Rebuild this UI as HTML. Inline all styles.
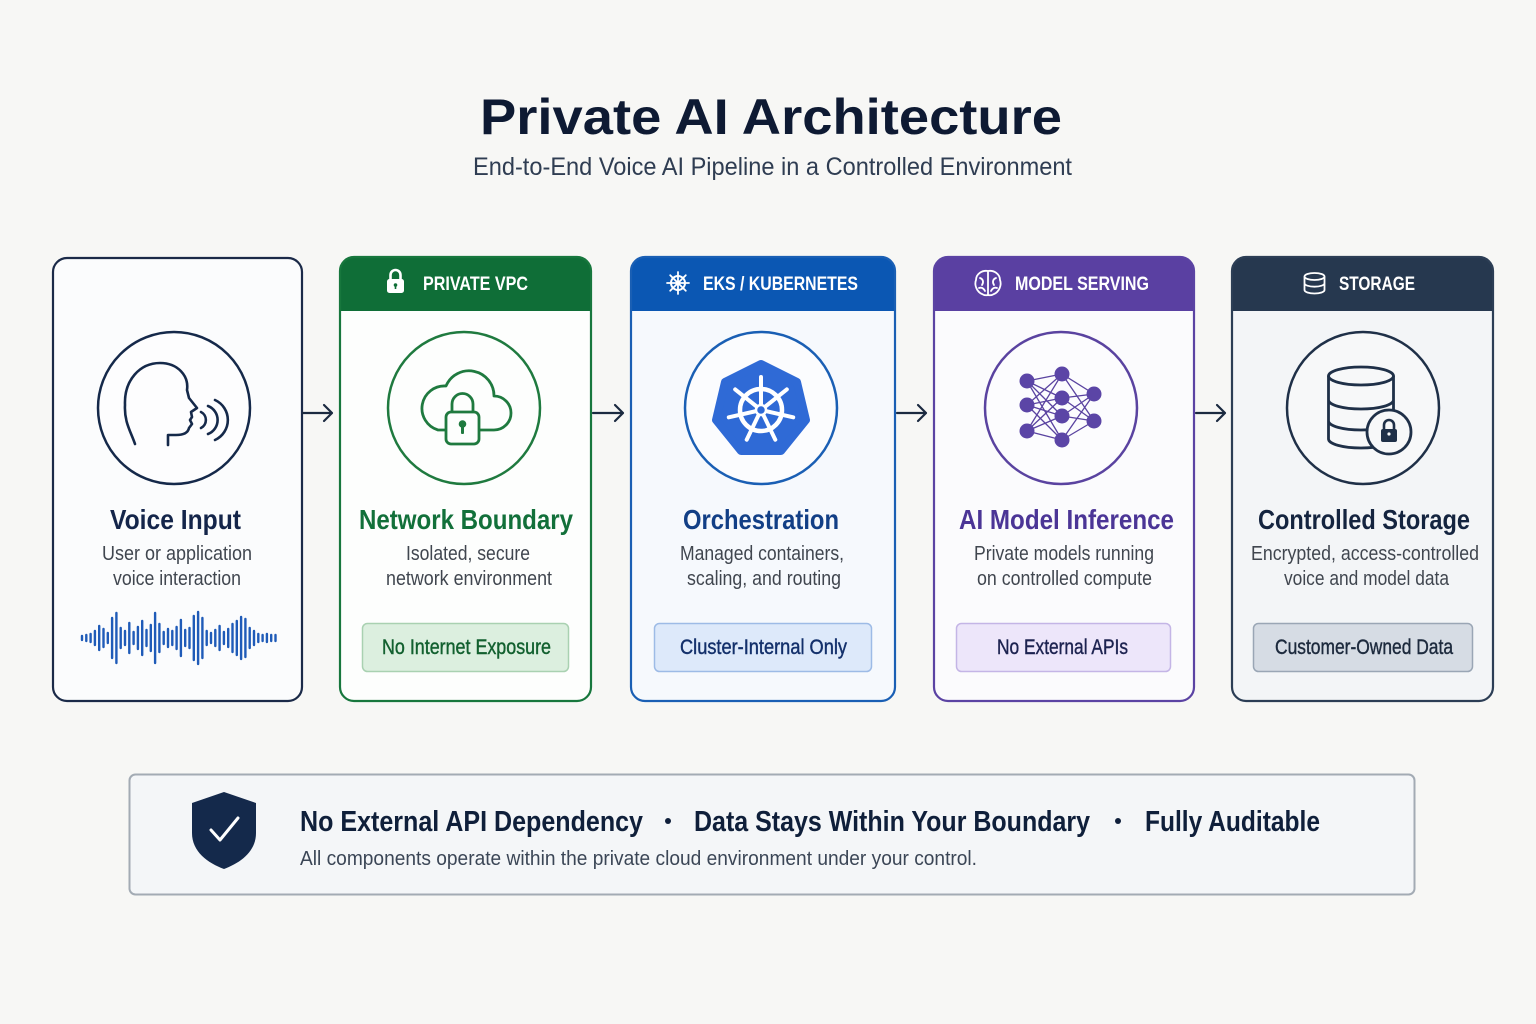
<!DOCTYPE html>
<html><head><meta charset="utf-8"><style>
html,body{margin:0;padding:0;background:#f7f7f5;}
svg{display:block;}
text{font-family:"Liberation Sans",sans-serif;}
</style></head><body>
<svg width="1536" height="1024" viewBox="0 0 1536 1024" xmlns="http://www.w3.org/2000/svg">
<rect width="1536" height="1024" fill="#f7f7f5"/>

<!-- Title -->
<text x="480" y="134" font-size="50" font-weight="700" fill="#0e1a33" textLength="582" lengthAdjust="spacingAndGlyphs">Private AI Architecture</text>
<text x="473" y="175" font-size="25" fill="#2f3d52" textLength="599" lengthAdjust="spacingAndGlyphs">End-to-End Voice AI Pipeline in a Controlled Environment</text>

<!-- Card 1 -->
<rect x="53" y="258" width="249" height="443" rx="14" fill="#fbfcfd" stroke="#1b2a48" stroke-width="2.2"/>
<circle cx="174" cy="408" r="76" fill="#fdfdfe" stroke="#15294a" stroke-width="2.5"/>
<g fill="none" stroke="#15294a" stroke-width="2.6" stroke-linecap="round" stroke-linejoin="round">
<path d="M135,444 C131,432 124,422 125,405 C124,380 140,363 160,363 C178,363 189,376 187,390 L189,398 L197,408 L191,412 L192,417 L190,420 L192,424 L189,428 C188,433 183,435 176,435 L168,435 L168,445"/>
<path d="M201,412 A9,9 0 0 1 201,428"/>
<path d="M208,406 A15,15 0 0 1 208,434"/>
<path d="M215,400 A22,22 0 0 1 215,440"/>
</g>
<text x="110" y="529" font-size="28" font-weight="700" fill="#14254a" textLength="131" lengthAdjust="spacingAndGlyphs">Voice Input</text>
<text x="102" y="560" font-size="20" fill="#40464f" textLength="150" lengthAdjust="spacingAndGlyphs">User or application</text>
<text x="113" y="585" font-size="20" fill="#40464f" textLength="128" lengthAdjust="spacingAndGlyphs">voice interaction</text>
<path stroke="#1f5bb8" stroke-width="2.4" stroke-linecap="round" fill="none" d="M82 636V640 M86.3 635V641 M90.6 634V642 M94.9 631V645 M99.2 626V650 M103.5 629V647 M107.8 633V643 M112.1 618V658 M116.4 613V663 M120.7 628V648 M125 631V645 M129.3 623V653 M133.6 632V644 M137.9 627V649 M142.2 621V655 M146.5 630V646 M150.8 625V651 M155.1 613V663 M159.4 624V652 M163.7 632V644 M168 629V647 M172.3 631V645 M176.6 627V649 M180.9 620V656 M185.2 630V646 M189.5 628V648 M193.8 616V660 M198.1 612V664 M202.4 618V658 M206.7 631V645 M211 633V643 M215.3 630V646 M219.6 626V650 M223.9 632V644 M228.2 629V647 M232.5 624V652 M236.8 621V655 M241.1 617V659 M245.4 619V657 M249.7 628V648 M254 631V645 M258.3 634V642 M262.6 635V641 M266.9 634V642 M271.2 635V641 M275.5 635V641"/>

<!-- Arrows -->
<g fill="none" stroke="#1b2a40" stroke-width="2.2" stroke-linecap="round" stroke-linejoin="round">
<path d="M303,413 H332 M324,405 L332,413 L324,421"/>
<path d="M593,413 H623 M615,405 L623,413 L615,421"/>
<path d="M897,413 H926 M918,405 L926,413 L918,421"/>
<path d="M1196,413 H1225 M1217,405 L1225,413 L1217,421"/>
</g>

<!-- Card 2 -->
<rect x="340" y="257" width="251" height="444" rx="14" fill="#fdfefd"/>
<path d="M340,311 V271 A14,14 0 0 1 354,257 H577 A14,14 0 0 1 591,271 V311 Z" fill="#0f6e37"/>
<rect x="340" y="257" width="251" height="444" rx="14" fill="none" stroke="#17773d" stroke-width="2.2"/>
<rect x="387" y="279" width="17" height="14" rx="2.5" fill="#fff"/>
<path d="M390.5,279 V275 A5,5 0 0 1 400.5,275 V279" fill="none" stroke="#fff" stroke-width="2.6"/>
<circle cx="395.5" cy="285" r="1.8" fill="#0f6e37"/>
<rect x="394.7" y="285" width="1.6" height="4" fill="#0f6e37"/>
<text x="423" y="290" font-size="19" font-weight="700" fill="#fff" textLength="105" lengthAdjust="spacingAndGlyphs">PRIVATE VPC</text>
<circle cx="464" cy="408" r="76" fill="#fdfefd" stroke="#1f7a3f" stroke-width="2.5"/>
<g fill="none" stroke="#1f7a3f" stroke-width="2.8" stroke-linejoin="round">
<path d="M438,430 H494 A17,17 0 0 0 494,396 A25,25 0 0 0 446,386 A22.5,22.5 0 0 0 438,430 Z"/>
<path d="M452,412 V404 A10.5,10.5 0 0 1 473,404 V412"/>
<rect x="446" y="412" width="33" height="32" rx="5" fill="#fdfefd"/>
</g>
<circle cx="462.5" cy="424" r="3.8" fill="#1f7a3f"/>
<rect x="461" y="425" width="3" height="9" rx="1" fill="#1f7a3f"/>
<text x="359" y="529" font-size="28" font-weight="700" fill="#12703a" textLength="214" lengthAdjust="spacingAndGlyphs">Network Boundary</text>
<text x="406" y="560" font-size="20" fill="#40464f" textLength="124" lengthAdjust="spacingAndGlyphs">Isolated, secure</text>
<text x="386" y="585" font-size="20" fill="#40464f" textLength="166" lengthAdjust="spacingAndGlyphs">network environment</text>
<rect x="362.5" y="623.5" width="206" height="48" rx="5" fill="#dcefdf" stroke="#a9d1b1" stroke-width="1.5"/>
<text x="382" y="654" font-size="21" fill="#12602f" stroke="#12602f" stroke-width="0.4" textLength="169" lengthAdjust="spacingAndGlyphs">No Internet Exposure</text>

<!-- Card 3 -->
<rect x="631" y="257" width="264" height="444" rx="14" fill="#f6f9fd"/>
<path d="M631,311 V271 A14,14 0 0 1 645,257 H881 A14,14 0 0 1 895,271 V311 Z" fill="#0b57b3"/>
<rect x="631" y="257" width="264" height="444" rx="14" fill="none" stroke="#1a5fb4" stroke-width="2.2"/>
<g transform="translate(678,283)" stroke="#fff" fill="none" stroke-linecap="round">
<circle r="7" stroke-width="2"/>
<circle r="1.8" fill="#fff" stroke="none"/>
<path stroke-width="1.8" d="M0,-11 V11 M-11,0 H11 M-7.8,-7.8 L7.8,7.8 M-7.8,7.8 L7.8,-7.8"/>
</g>
<text x="703" y="290" font-size="19" font-weight="700" fill="#fff" textLength="155" lengthAdjust="spacingAndGlyphs">EKS / KUBERNETES</text>
<circle cx="761" cy="408" r="76" fill="#fbfcfe" stroke="#1a5fb4" stroke-width="2.5"/>
<polygon points="761,364 797,382 806,420 781,451 741,451 716,420 725,382" fill="#2f6ad6" stroke="#2f6ad6" stroke-width="8" stroke-linejoin="round"/>
<g stroke="#fff" fill="none" stroke-linecap="round">
<circle cx="761" cy="410" r="21" stroke-width="4.5"/>
<path stroke-width="4" d="M761,410 L761,377 M761,410 L786.8,389.4 M761,410 L793.2,417.3 M761,410 L775.3,439.7 M761,410 L746.7,439.7 M761,410 L728.8,417.3 M761,410 L735.2,389.4"/>
</g>
<circle cx="761" cy="410" r="5" fill="#2f6ad6" stroke="#fff" stroke-width="2.5"/>
<text x="683" y="529" font-size="28" font-weight="700" fill="#123f86" textLength="156" lengthAdjust="spacingAndGlyphs">Orchestration</text>
<text x="680" y="560" font-size="20" fill="#40464f" textLength="164" lengthAdjust="spacingAndGlyphs">Managed containers,</text>
<text x="687" y="585" font-size="20" fill="#40464f" textLength="154" lengthAdjust="spacingAndGlyphs">scaling, and routing</text>
<rect x="654.5" y="623.5" width="217" height="48" rx="5" fill="#dde9fa" stroke="#9dbbe6" stroke-width="1.5"/>
<text x="680" y="654" font-size="21" fill="#13306b" stroke="#13306b" stroke-width="0.4" textLength="167" lengthAdjust="spacingAndGlyphs">Cluster-Internal Only</text>

<!-- Card 4 -->
<rect x="934" y="257" width="260" height="444" rx="14" fill="#fbfbfd"/>
<path d="M934,311 V271 A14,14 0 0 1 948,257 H1180 A14,14 0 0 1 1194,271 V311 Z" fill="#5a40a2"/>
<rect x="934" y="257" width="260" height="444" rx="14" fill="none" stroke="#5b43a3" stroke-width="2.2"/>
<g transform="translate(988,283)" stroke="#fff" fill="none" stroke-width="1.8" stroke-linecap="round">
<path d="M0,-12 C-6,-13 -12,-9 -12,-3 C-14,2 -11,9 -6,11 C-3,13 0,12 0,12 C0,12 3,13 6,11 C11,9 14,2 12,-3 C12,-9 6,-13 0,-12 Z M0,-12 V12 M-8,-5 C-5,-4 -4,-1 -6,2 M8,-5 C5,-4 4,-1 6,2 M-9,5 C-6,4 -4,6 -3,8 M9,5 C6,4 4,6 3,8"/>
</g>
<text x="1015" y="290" font-size="19" font-weight="700" fill="#fff" textLength="134" lengthAdjust="spacingAndGlyphs">MODEL SERVING</text>
<circle cx="1061" cy="408" r="76" fill="#fcfcfe" stroke="#5a43a0" stroke-width="2.5"/>
<g stroke="#5a43a0" stroke-width="1.3">
<path d="M1027,381 L1062,374 M1027,381 L1062,398 M1027,381 L1062,416 M1027,381 L1062,440 M1027,405 L1062,374 M1027,405 L1062,398 M1027,405 L1062,416 M1027,405 L1062,440 M1027,431 L1062,374 M1027,431 L1062,398 M1027,431 L1062,416 M1027,431 L1062,440 M1062,374 L1094,394 M1062,374 L1094,421 M1062,398 L1094,394 M1062,398 L1094,421 M1062,416 L1094,394 M1062,416 L1094,421 M1062,440 L1094,394 M1062,440 L1094,421"/>
</g>
<g fill="#5b45a6">
<circle cx="1027" cy="381" r="7.5"/><circle cx="1027" cy="405" r="7.5"/><circle cx="1027" cy="431" r="7.5"/>
<circle cx="1062" cy="374" r="7.5"/><circle cx="1062" cy="398" r="7.5"/><circle cx="1062" cy="416" r="7.5"/><circle cx="1062" cy="440" r="7.5"/>
<circle cx="1094" cy="394" r="7.5"/><circle cx="1094" cy="421" r="7.5"/>
</g>
<text x="959" y="529" font-size="28" font-weight="700" fill="#4b3596" textLength="215" lengthAdjust="spacingAndGlyphs">AI Model Inference</text>
<text x="974" y="560" font-size="20" fill="#40464f" textLength="180" lengthAdjust="spacingAndGlyphs">Private models running</text>
<text x="977" y="585" font-size="20" fill="#40464f" textLength="175" lengthAdjust="spacingAndGlyphs">on controlled compute</text>
<rect x="956.5" y="623.5" width="214" height="48" rx="5" fill="#ede6fa" stroke="#c4b5e6" stroke-width="1.5"/>
<text x="997" y="654" font-size="21" fill="#1d2350" stroke="#1d2350" stroke-width="0.4" textLength="131" lengthAdjust="spacingAndGlyphs">No External APIs</text>

<!-- Card 5 -->
<rect x="1232" y="257" width="261" height="444" rx="14" fill="#f3f5f7"/>
<path d="M1232,311 V271 A14,14 0 0 1 1246,257 H1479 A14,14 0 0 1 1493,271 V311 Z" fill="#26384f"/>
<rect x="1232" y="257" width="261" height="444" rx="14" fill="none" stroke="#2c3e55" stroke-width="2.2"/>
<g fill="none" stroke="#fff" stroke-width="1.8">
<ellipse cx="1314.5" cy="276.5" rx="10" ry="3.5"/>
<path d="M1304.5,276.5 V290 A10,3.5 0 0 0 1324.5,290 V276.5 M1304.5,283.2 A10,3.5 0 0 0 1324.5,283.2"/>
</g>
<text x="1339" y="290" font-size="19" font-weight="700" fill="#fff" textLength="76" lengthAdjust="spacingAndGlyphs">STORAGE</text>
<circle cx="1363" cy="408" r="76" fill="#f7f8f9" stroke="#1f3048" stroke-width="2.5"/>
<g fill="none" stroke="#1f3048" stroke-width="2.8">
<ellipse cx="1361" cy="376" rx="32.5" ry="9"/>
<path d="M1328.5,376 V439 A32.5,9 0 0 0 1393.5,439 V376 M1328.5,400 A32.5,9 0 0 0 1393.5,400 M1328.5,421 A32.5,9 0 0 0 1393.5,421"/>
</g>
<circle cx="1389" cy="432" r="22" fill="#f7f8f9" stroke="#1f3048" stroke-width="2.8"/>
<rect x="1381" y="429" width="16" height="13" rx="2" fill="#1f3048"/>
<path d="M1384,429 V425 A5,5 0 0 1 1394,425 V429" fill="none" stroke="#1f3048" stroke-width="2.6"/>
<circle cx="1389" cy="434" r="1.6" fill="#f7f8f9"/>
<text x="1258" y="529" font-size="28" font-weight="700" fill="#14243f" textLength="212" lengthAdjust="spacingAndGlyphs">Controlled Storage</text>
<text x="1251" y="560" font-size="20" fill="#40464f" textLength="228" lengthAdjust="spacingAndGlyphs">Encrypted, access-controlled</text>
<text x="1284" y="585" font-size="20" fill="#40464f" textLength="165" lengthAdjust="spacingAndGlyphs">voice and model data</text>
<rect x="1253.5" y="623.5" width="219" height="48" rx="5" fill="#d6dce4" stroke="#9aa6b5" stroke-width="1.5"/>
<text x="1275" y="654" font-size="21" fill="#1d2a3d" stroke="#1d2a3d" stroke-width="0.4" textLength="178" lengthAdjust="spacingAndGlyphs">Customer-Owned Data</text>

<!-- Bottom banner -->
<rect x="129.5" y="774.5" width="1285" height="120" rx="6" fill="#f4f6f8" stroke="#a3abb4" stroke-width="2"/>
<path d="M224,792 L256,803 V833 C256,852 240,863 224,869 C208,863 192,852 192,833 V803 Z" fill="#14294b"/>
<path d="M211,830 L220,840 L238,818" fill="none" stroke="#fff" stroke-width="3" stroke-linecap="round" stroke-linejoin="round"/>
<text x="300" y="831" font-size="29" font-weight="700" fill="#0f1f3a" textLength="343" lengthAdjust="spacingAndGlyphs">No External API Dependency</text>
<circle cx="668" cy="821" r="3" fill="#0f1f3a"/>
<text x="694" y="831" font-size="29" font-weight="700" fill="#0f1f3a" textLength="396" lengthAdjust="spacingAndGlyphs">Data Stays Within Your Boundary</text>
<circle cx="1118" cy="821" r="3" fill="#0f1f3a"/>
<text x="1145" y="831" font-size="29" font-weight="700" fill="#0f1f3a" textLength="175" lengthAdjust="spacingAndGlyphs">Fully Auditable</text>
<text x="300" y="865" font-size="20" fill="#3b4656" textLength="677" lengthAdjust="spacingAndGlyphs">All components operate within the private cloud environment under your control.</text>
</svg>
</body></html>
